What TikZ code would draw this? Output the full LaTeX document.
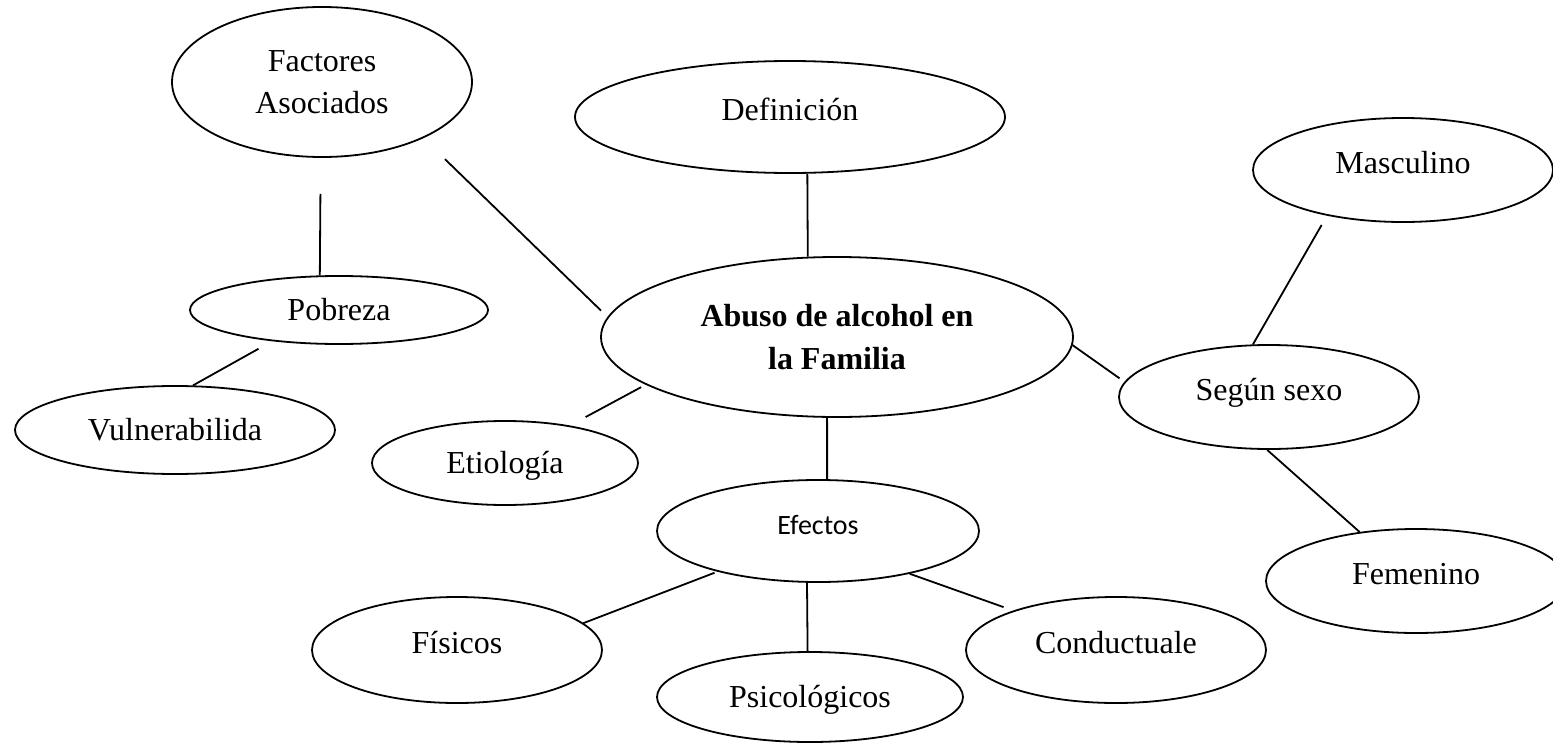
\documentclass[tikz,border=0pt]{standalone}
\usepackage{fontspec}
\setmainfont{Liberation Serif}
\newfontfamily\carlito{Carlito}
\usepackage{tikz}
\usetikzlibrary{shapes}

\begin{document}
\begin{tikzpicture}[
    x=0.5pt, y=-0.5pt,
    oval/.style={ellipse, draw, line width=0.9pt, inner sep=0pt, align=center, font=\fontsize{16}{21}\selectfont},
    one/.style={text height=10pt, text depth=7pt},
    low/.style={text height=11pt, text depth=1pt},
    link/.style={line width=0.9pt}
]
    \useasboundingbox (0,0) rectangle (1553,744);

    \node [oval, minimum width=236pt, minimum height=80pt, font=\fontsize{16}{21.5}\selectfont\bfseries] (ab) at (837,337) {Abuso de alcohol en\\la Familia};
    \node [oval, minimum width=150pt, minimum height=75pt] (fa) at (322,82) {Factores\\Asociados};
    \node [oval, one, minimum width=215pt, minimum height=56pt] (def) at (790,117) {Definición};
    \node [oval, one, minimum width=150pt, minimum height=52pt] (masc) at (1403,170) {Masculino};
    \node [oval, low, minimum width=149pt, minimum height=34pt] (pob) at (339,310) {Pobreza};
    \node [oval, low, minimum width=160pt, minimum height=44pt] (vul) at (175,430) {Vulnerabilida};
    \node [oval, low, minimum width=133pt, minimum height=42pt] (etio) at (505,463) {Etiología};
    \node [oval, one, minimum width=150pt, minimum height=52pt] (seg) at (1269,397) {Según sexo};
    \node [oval, one, minimum width=161pt, minimum height=51pt, font=\carlito\fontsize{14}{17}\selectfont] (ef) at (818,531) {Efectos};
    \node [oval, one, minimum width=150pt, minimum height=52pt] (fem) at (1416,581) {Femenino};
    \node [oval, one, minimum width=145pt, minimum height=53pt] (fis) at (457,650) {Físicos};
    \node [oval, low, minimum width=153pt, minimum height=45pt] (psi) at (810,697) {Psicológicos};
    \node [oval, one, minimum width=150pt, minimum height=53pt] (con) at (1116,650) {Conductuale};

    \draw [link, shorten <=15pt, shorten >=4.5pt] (fa.-29.6) -- (ab.175);
    \draw [link, shorten <=18pt] (fa.-91.5) -- (pob.119.4);
    \draw [link, shorten <=7.75pt] (pob.-155.9) -- (vul.68.4);
    \draw [link] (def.-73.1) -- (ab.110.7);
    \draw [link, shorten <=5.35pt] (masc.-149.8) -- (seg.107.5);
    \draw [link, shorten >=3pt] (ab.-2.4) -- (seg.174.2);
    \draw [link, shorten <=2.6pt, shorten >=8.9pt] (ab.-166.9) -- (etio.30.1);
    \draw [link] (ab.-97.1) -- (ef.80);
    \draw [link] (seg.-92.2) -- (fem.139.2);
    \draw [link, shorten <=1.5pt] (ef.-158.3) -- (fis.12.4);
    \draw [link] (ef.-102.2) -- (psi.93.8);
    \draw [link, shorten >=5.1pt] (ef.-25) -- (con.159.6);
\end{tikzpicture}
\end{document}
